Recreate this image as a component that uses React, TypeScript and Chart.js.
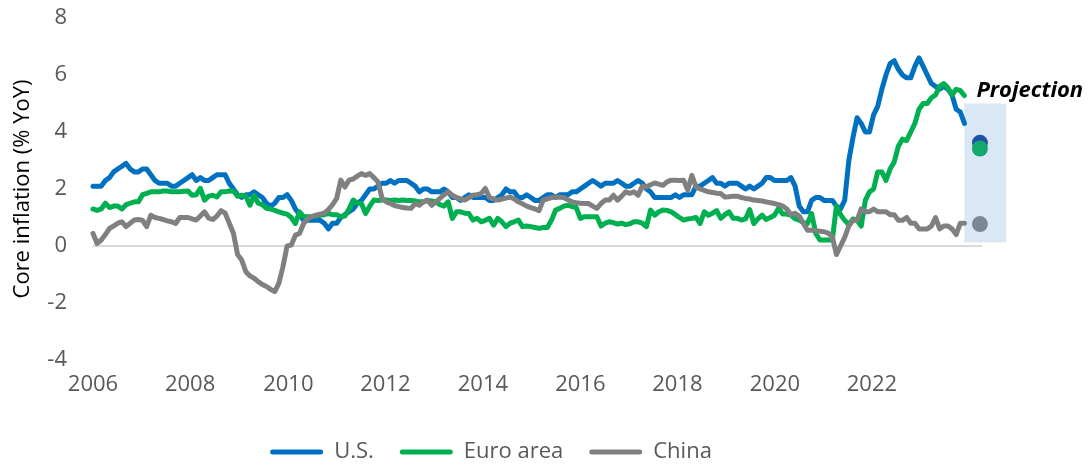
import React, { useEffect, useRef } from "react";
import { Chart, registerables } from "chart.js";

Chart.register(...registerables);

const FONT = '"Open Sans", "Noto Sans", sans-serif';

const seriesLabels = ["U.S.", "Euro area", "China"];
const seriesColors = ["#0070C0", "#00B050", "#808080"];

// x axis: months since Jan 2006
const xTickLabels = ["2006", "2008", "2010", "2012", "2014", "2016", "2018", "2020", "2022"];
const xTickMonths = [0, 23.5, 47.3, 70.8, 94.4, 118, 141.5, 165.1, 188.6];
const xMaxMonth = 215.25;

const yAxisTitle = "Core inflation (% YoY)";
const yMin = -4;
const yMax = 8;
const yStep = 2;

// Jan 2006 .. Aug 2023, monthly
const usCore = [
  2.1, 2.1, 2.1, 2.3, 2.4, 2.6, 2.7, 2.8, 2.9, 2.7, 2.6, 2.6,
  2.7, 2.7, 2.5, 2.3, 2.2, 2.2, 2.2, 2.1, 2.1, 2.2, 2.3, 2.4,
  2.5, 2.3, 2.4, 2.3, 2.3, 2.4, 2.5, 2.5, 2.5, 2.2, 2.0, 1.8,
  1.7, 1.8, 1.8, 1.9, 1.8, 1.7, 1.5, 1.4, 1.5, 1.7, 1.7, 1.8,
  1.6, 1.3, 1.1, 0.9, 0.9, 0.9, 0.9, 0.9, 0.8, 0.6, 0.8, 0.8,
  1.0, 1.1, 1.2, 1.3, 1.5, 1.6, 1.8, 2.0, 2.0, 2.1, 2.2, 2.2,
  2.3, 2.2, 2.3, 2.3, 2.3, 2.2, 2.1, 1.9, 2.0, 2.0, 1.9, 1.9,
  1.9, 2.0, 1.9, 1.7, 1.7, 1.6, 1.7, 1.8, 1.7, 1.7, 1.7, 1.7,
  1.6, 1.6, 1.7, 1.8, 2.0, 1.9, 1.9, 1.7, 1.7, 1.8, 1.7, 1.6,
  1.6, 1.7, 1.8, 1.8, 1.7, 1.8, 1.8, 1.8, 1.9, 1.9, 2.0, 2.1,
  2.2, 2.3, 2.2, 2.1, 2.2, 2.2, 2.2, 2.3, 2.2, 2.1, 2.1, 2.2,
  2.3, 2.2, 2.0, 1.9, 1.7, 1.7, 1.7, 1.7, 1.7, 1.8, 1.7, 1.8,
  1.8, 1.8, 2.1, 2.1, 2.2, 2.3, 2.4, 2.2, 2.2, 2.1, 2.2, 2.2,
  2.2, 2.1, 2.0, 2.1, 2.0, 2.1, 2.2, 2.4, 2.4, 2.3, 2.3, 2.3,
  2.3, 2.4, 2.1, 1.4, 1.2, 1.2, 1.6, 1.7, 1.7, 1.6, 1.6, 1.6,
  1.4, 1.3, 1.6, 3.0, 3.8, 4.5, 4.3, 4.0, 4.0, 4.6, 4.9, 5.5,
  6.0, 6.4, 6.5, 6.2, 6.0, 5.9, 5.9, 6.3, 6.6, 6.3, 6.0, 5.7,
  5.6, 5.5, 5.6, 5.5, 5.3, 4.8, 4.7, 4.3,
];

const euroCore = [
  1.3, 1.25, 1.3, 1.5, 1.35, 1.4, 1.4, 1.3, 1.45, 1.5, 1.55, 1.55,
  1.8, 1.85, 1.9, 1.9, 1.9, 1.93, 1.93, 1.9, 1.9, 1.9, 1.92, 1.93,
  1.78, 1.8, 2.02, 1.61, 1.75, 1.78, 1.72, 1.9, 1.9, 1.93, 1.93, 1.75,
  1.78, 1.75, 1.43, 1.78, 1.5, 1.45, 1.32, 1.3, 1.25, 1.2, 1.15, 1.12,
  1.0, 0.79, 1.2, 1.03, 1.03, 1.03, 1.05, 1.08, 1.1, 1.14, 1.1, 1.1,
  1.03, 1.05, 1.3, 1.61, 1.5, 1.49, 1.14, 1.4, 1.61, 1.6, 1.61, 1.61,
  1.6, 1.61, 1.6, 1.61, 1.6, 1.6, 1.58, 1.55, 1.55, 1.6, 1.58, 1.55,
  1.45, 1.4, 1.55, 0.97, 1.2, 1.2, 1.15, 1.14, 0.91, 0.97, 0.85, 0.9,
  0.97, 0.73, 0.97, 0.85, 0.68, 0.8, 0.85, 0.91, 0.68, 0.7, 0.68, 0.65,
  0.62, 0.65, 0.65, 0.9, 1.26, 1.32, 1.4, 1.43, 1.38, 1.35, 0.97, 1.03,
  1.03, 1.03, 1.03, 0.7, 0.8, 0.85, 0.82, 0.77, 0.8, 0.75, 0.78, 0.85,
  0.85, 0.8, 0.68, 1.26, 1.08, 1.2, 1.26, 1.25, 1.2, 1.1, 1.0, 0.91,
  0.95, 0.97, 1.0, 0.79, 1.2, 1.08, 1.15, 1.24, 0.97, 1.1, 1.2, 0.97,
  0.97, 0.91, 0.95, 1.28, 0.79, 0.95, 1.08, 0.93, 1.0, 1.08, 1.32, 1.12,
  1.12, 1.08, 0.95, 0.91, 0.82, 0.79, 1.14, 0.44, 0.21, 0.21, 0.21, 0.21,
  1.4, 1.1, 0.9, 0.75, 0.95, 0.9, 0.7, 1.6, 1.9, 2.0, 2.6, 2.6,
  2.3, 2.7, 2.95, 3.5, 3.75, 3.7, 4.0, 4.3, 4.8, 5.0, 5.0, 5.2,
  5.3, 5.6, 5.7, 5.55, 5.3, 5.5, 5.45, 5.28,
];

const chinaCore = [
  0.44, 0.09, 0.21, 0.4, 0.62, 0.7, 0.8, 0.85, 0.68, 0.8, 0.91, 0.93,
  0.9, 0.68, 1.08, 1.0, 0.97, 0.93, 0.88, 0.85, 0.79, 1.0, 1.0, 1.0,
  0.95, 0.91, 1.05, 1.2, 0.98, 0.93, 1.05, 1.24, 1.15, 0.8, 0.45, -0.3,
  -0.49, -0.9, -1.05, -1.13, -1.25, -1.35, -1.42, -1.52, -1.6, -1.31, -0.72, 0.0,
  0.03, 0.38, 0.44, 0.79, 0.95, 1.03, 1.08, 1.12, 1.15, 1.28, 1.45, 1.67,
  2.31, 2.07, 2.31, 2.35, 2.45, 2.54, 2.48, 2.54, 2.4, 2.25, 1.67, 1.55,
  1.49, 1.42, 1.38, 1.35, 1.33, 1.32, 1.49, 1.43, 1.55, 1.61, 1.43, 1.55,
  1.67, 1.8, 1.9, 1.78, 1.7, 1.65, 1.61, 1.7, 1.78, 1.8, 1.84, 2.02,
  1.7, 1.65, 1.61, 1.65, 1.68, 1.72, 1.65, 1.55, 1.48, 1.4, 1.35, 1.3,
  1.24, 1.61, 1.65, 1.7, 1.72, 1.71, 1.7, 1.62, 1.55, 1.52, 1.5, 1.49,
  1.49, 1.4, 1.32, 1.49, 1.61, 1.61, 1.78, 1.61, 1.75, 1.9, 1.85, 1.9,
  1.78, 2.1, 2.07, 2.15, 2.21, 2.17, 2.13, 2.25, 2.31, 2.31, 2.3, 2.31,
  1.96, 2.48, 2.07, 2.0, 1.95, 1.9, 1.88, 1.85, 1.84, 1.72, 1.73, 1.75,
  1.75, 1.7, 1.67, 1.65, 1.61, 1.6, 1.58, 1.55, 1.52, 1.49, 1.45, 1.4,
  1.3, 1.1, 1.15, 1.05, 0.8, 0.55, 0.55, 0.54, 0.52, 0.5, 0.45, 0.33,
  -0.3, 0.0, 0.3, 0.7, 0.9, 0.9, 1.3, 1.2, 1.2, 1.3, 1.2, 1.2,
  1.2, 1.1, 1.1, 0.9, 0.9, 1.0, 0.8, 0.8, 0.6, 0.6, 0.6, 0.7,
  1.0, 0.6, 0.7, 0.7, 0.6, 0.4, 0.8, 0.8,
];

const projectionLabel = "Projection";
const projectionMonth = 214.75;
const projectionValues = [3.62, 3.42, 0.77];
const projectionColors = ["#2150A8", "#14A86C", "#7B8794"];
const projectionBand = { fromMonth: 211, toMonth: 221.1, low: 0.13, high: 5.0 };

const toPoints = (arr: number[]) => arr.map((v, i) => ({ x: i, y: v }));

const projectionPlugin = {
  id: "projectionBand",
  beforeDatasetsDraw(chart: any) {
    const { ctx, scales } = chart;
    const x = scales.x;
    const y = scales.y;
    const l = x.getPixelForValue(projectionBand.fromMonth);
    const r = x.getPixelForValue(projectionBand.toMonth);
    const t = y.getPixelForValue(projectionBand.high);
    const b = y.getPixelForValue(projectionBand.low);
    ctx.save();
    ctx.fillStyle = "#DAE7F5";
    ctx.fillRect(l, t, r - l, b - t);
    ctx.fillStyle = "#000000";
    ctx.font = `italic bold 22px ${FONT}`;
    ctx.textBaseline = "alphabetic";
    ctx.textAlign = "left";
    ctx.fillText(projectionLabel, l + 12, t - 7);
    ctx.restore();
  },
};

export default function App() {
  const canvasRef = useRef<HTMLCanvasElement | null>(null);

  useEffect(() => {
    document.body.style.margin = "0";
    const canvas = canvasRef.current;
    if (!canvas) return;
    const lines = [usCore, euroCore, chinaCore].map((arr, i) => ({
      type: "line" as const,
      label: seriesLabels[i],
      data: toPoints(arr),
      borderColor: seriesColors[i],
      backgroundColor: seriesColors[i],
      borderWidth: 5,
      pointRadius: 0,
      tension: 0,
      borderJoinStyle: "round" as const,
      borderCapStyle: "round" as const,
      clip: false as any,
      order: 3 - i,
    }));
    const pointOrder = [-1, -2, -1];
    const points = projectionValues.map((v, i) => ({
      type: "scatter" as const,
      label: seriesLabels[i] + " projection",
      data: [{ x: projectionMonth, y: v }],
      backgroundColor: projectionColors[i],
      borderWidth: 0,
      pointRadius: 8,
      clip: false as any,
      order: pointOrder[i],
    }));

    const chart = new Chart(canvas, {
      type: "line",
      data: { datasets: [...lines, ...points] as any },
      plugins: [projectionPlugin],
      options: {
        animation: false,
        responsive: false,
        devicePixelRatio: 1,
        layout: { padding: { top: 18, right: 106, left: 0, bottom: 0 } },
        plugins: {
          tooltip: { enabled: false },
          legend: {
            position: "bottom",
            maxHeight: 49,
            labels: {
              font: { family: FONT, size: 22 },
              color: "#595959",
              boxWidth: 53,
              boxHeight: 5,
              padding: 26,
              sort: (a: any, b: any) => a.datasetIndex - b.datasetIndex,
              generateLabels: (c: any) =>
                Chart.defaults.plugins.legend.labels
                  .generateLabels(c)
                  .filter((it: any) => it.datasetIndex < 3)
                  .map((it: any) => ({ ...it, lineWidth: 0, borderRadius: 2.5 })),
            },
          },
        },
        scales: {
          x: {
            type: "linear",
            min: 0,
            max: xMaxMonth,
            grid: { display: false, drawTicks: false },
            border: { display: false },
            afterBuildTicks: (axis: any) => {
              axis.ticks = xTickMonths.map((v) => ({ value: v }));
            },
            afterFit: (scale: any) => {
              scale.height = 55;
              scale.paddingLeft = 0;
              scale.paddingRight = 0;
            },
            ticks: {
              autoSkip: false,
              maxRotation: 0,
              padding: 12,
              color: "#595959",
              font: { family: FONT, size: 22 },
              callback: (_v: any, idx: number) => xTickLabels[idx],
            },
          },
          y: {
            min: yMin,
            max: yMax,
            afterFit: (scale: any) => {
              scale.width = 93;
              scale.paddingTop = 0;
              scale.paddingBottom = 0;
            },
            grid: {
              drawTicks: false,
              lineWidth: 2,
              color: (c: any) => (c.tick && c.tick.value === 0 ? "#D9D9D9" : "rgba(0,0,0,0)"),
            },
            border: { display: false },
            ticks: {
              stepSize: yStep,
              padding: 26,
              color: "#595959",
              font: { family: FONT, size: 22 },
            },
            title: {
              display: true,
              text: yAxisTitle,
              color: "#000000",
              font: { family: FONT, size: 22 },
              padding: { top: 10, bottom: 0 },
            },
          },
        },
      } as any,
    });
    return () => chart.destroy();
  }, []);

  return (
    <div style={{ width: 1088, height: 464 }}>
      <canvas ref={canvasRef} width={1088} height={464} style={{ display: "block" }} />
    </div>
  );
}
